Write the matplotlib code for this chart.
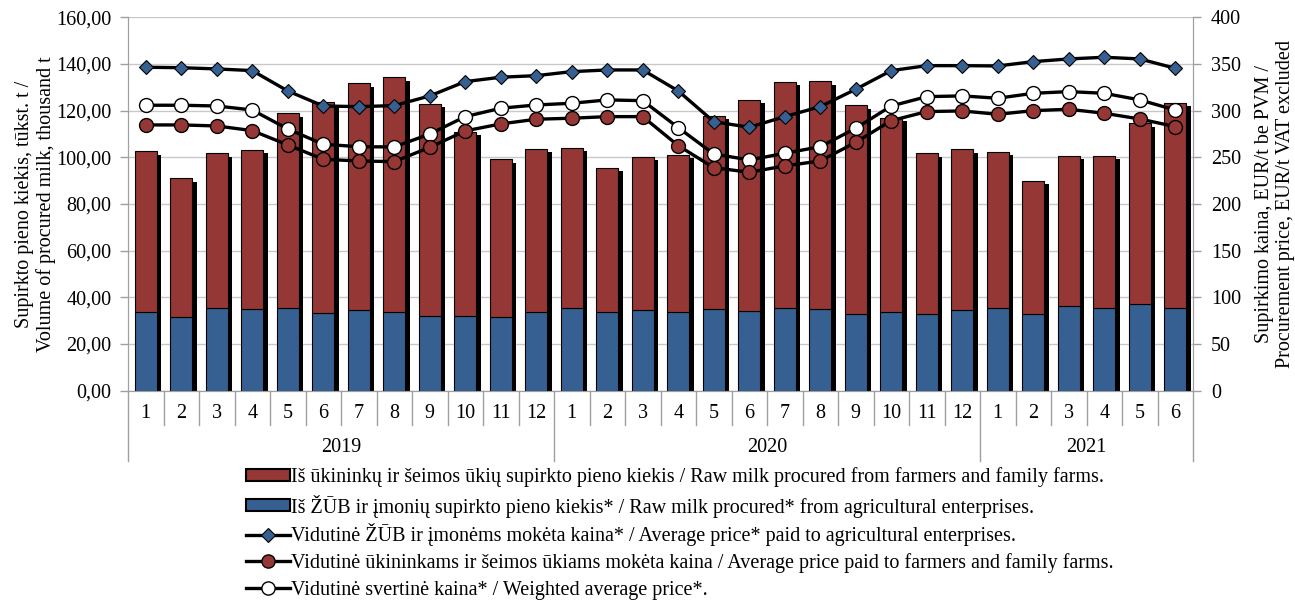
import matplotlib
matplotlib.use("Agg")
import matplotlib.pyplot as plt
import matplotlib.transforms as mtransforms
from matplotlib.patches import Rectangle
from matplotlib.lines import Line2D
import numpy as np

plt.rcParams['font.family'] = ['Liberation Serif', 'DejaVu Serif']

months = ['1','2','3','4','5','6','7','8','9','10','11','12',
          '1','2','3','4','5','6','7','8','9','10','11','12',
          '1','2','3','4','5','6']
years = ['2019', '2020', '2021']
year_counts = [12, 12, 6]

# total procured (thousand t) and part from agricultural enterprises
total_milk = [102.7, 91.0, 101.7, 103.3, 118.9, 123.9, 131.7, 134.3, 122.9, 111.0, 99.2, 103.7,
              104.2, 95.6, 100.3, 101.0, 117.9, 124.6, 132.4, 132.7, 122.3, 117.0, 101.7, 103.5,
              102.4, 90.0, 100.6, 100.6, 114.6, 123.3]
enterprise_milk = [33.9, 31.7, 35.4, 34.9, 35.4, 33.4, 34.6, 33.9, 32.0, 32.0, 31.5, 33.7,
                   35.3, 33.7, 34.6, 33.7, 35.1, 34.2, 35.6, 35.0, 32.9, 33.6, 32.9, 34.6,
                   35.6, 32.7, 36.4, 35.3, 37.0, 35.6]
farmer_milk = [round(t - e, 1) for t, e in zip(total_milk, enterprise_milk)]

price_enterprise = [346.5, 346.0, 344.7, 342.9, 321.1, 305.0, 304.3, 305.4, 315.8, 331.1, 335.8, 337.5,
                    341.8, 343.6, 343.6, 321.1, 288.2, 282.2, 293.6, 304.3, 322.9, 342.9, 348.2, 348.2,
                    347.9, 352.5, 355.4, 357.2, 355.4, 345.4]
price_farmers = [284.7, 284.7, 283.6, 278.6, 263.3, 247.9, 246.1, 245.4, 260.7, 278.3, 285.8, 290.8,
                 291.9, 293.6, 293.6, 262.5, 238.9, 234.0, 240.8, 246.1, 266.1, 289.3, 299.0, 299.7,
                 296.1, 300.0, 301.5, 297.2, 291.1, 282.9]
price_weighted = [305.8, 305.8, 305.0, 300.7, 280.4, 264.0, 261.4, 261.1, 275.0, 293.6, 302.6, 306.1,
                  307.9, 311.5, 310.7, 281.8, 253.6, 247.2, 254.3, 261.4, 281.1, 305.0, 315.0, 315.8,
                  313.3, 318.6, 320.4, 318.6, 311.5, 300.7]

labels = [
    'Iš ūkininkų ir šeimos ūkių supirkto pieno kiekis / Raw milk procured from farmers and family farms.',
    'Iš ŽŪB ir įmonių supirkto pieno kiekis* / Raw milk procured* from agricultural enterprises.',
    'Vidutinė ŽŪB ir įmonėms mokėta kaina* / Average price* paid to agricultural enterprises.',
    'Vidutinė ūkininkams ir šeimos ūkiams mokėta kaina / Average price paid to farmers and family farms.',
    'Vidutinė svertinė kaina* / Weighted average price*.',
]

RED = '#953735'
BLUE = '#376092'
GRID = '#c8c8c8'
AX = '#a0a0a0'
FS = 14.5

fig = plt.figure(figsize=(12.95, 6.0), dpi=100)
ax = fig.add_axes([128/1295, 1 - 390.7/600, (1193-128)/1295, (390.7-17.3)/600])
x = np.arange(len(months))
w = 0.62

# shadow
shadow_tr = ax.transData + mtransforms.ScaledTranslation(4.5/100, -3.5/100, fig.dpi_scale_trans)
ax.bar(x, total_milk, w, color='black', transform=shadow_tr, zorder=2)
ax.bar(x, enterprise_milk, w, color=BLUE, edgecolor='black', linewidth=0.8, zorder=3)
ax.bar(x, farmer_milk, w, bottom=enterprise_milk, color=RED, edgecolor='black', linewidth=0.8, zorder=3)

ax.set_xlim(-0.5, len(months) - 0.5)
ax.set_ylim(0, 160)
ax.set_yticks(np.arange(0, 161, 20))
ax.set_yticklabels([f'{v:.2f}'.replace('.', ',') for v in np.arange(0, 161, 20)], fontsize=FS)
ax.yaxis.grid(True, color=GRID, linewidth=1.0, zorder=0)
ax.set_axisbelow(True)
ax.set_xticks([])
ax.spines['top'].set_visible(False)
for s in ['left', 'right', 'bottom']:
    ax.spines[s].set_color(AX)
ax.tick_params(axis='y', color=AX, length=6, width=1, pad=6)
ax.set_ylabel('Supirkto pieno kiekis, tūkst. t /\nVolume of procured milk, thousand t',
              fontsize=FS, linespacing=1.12, labelpad=0)

ax2 = ax.twinx()
ax2.set_ylim(0, 400)
ax2.set_yticks(np.arange(0, 401, 50))
ax2.set_yticklabels([str(v) for v in range(0, 401, 50)], fontsize=FS)
ax2.spines['top'].set_visible(False)
for s in ['left', 'right', 'bottom']:
    ax2.spines[s].set_color(AX)
ax2.tick_params(axis='y', color=AX, length=6, width=1, pad=7)
ax2.set_ylabel('Supirkimo kaina, EUR/t be PVM /\nProcurement price, EUR/t VAT excluded',
               fontsize=FS, linespacing=1.12, labelpad=10)

lw = 2.4
ax2.plot(x, price_enterprise, color='black', lw=lw, marker='D', ms=7.5, mfc=BLUE, mec='black', mew=0.8, zorder=5)
ax2.plot(x, price_weighted, color='black', lw=lw, marker='o', ms=10, mfc='white', mec='black', mew=1.0, zorder=5)
ax2.plot(x, price_farmers, color='black', lw=lw, marker='o', ms=10, mfc=RED, mec='black', mew=1.0, zorder=5)

# category axis
btr = mtransforms.blended_transform_factory(ax.transData, ax.transAxes)
ah = 390.7 - 17.3
month_bottom = -(425 - 390.7) / ah
year_bottom = -(461 - 390.7) / ah
month_y = -(413 - 390.7) / ah
year_y = -(448 - 390.7) / ah
boundaries = [0]
for c in year_counts:
    boundaries.append(boundaries[-1] + c)
for i in range(len(months) + 1):
    xb = i - 0.5
    yb = year_bottom if i in boundaries else month_bottom
    ax.plot([xb, xb], [0, yb], color=AX, lw=1.0, transform=btr, clip_on=False)
for i, m in enumerate(months):
    ax.text(i, month_y, m, transform=btr, ha='center', va='center', fontsize=FS)
for j, yname in enumerate(years):
    c = (boundaries[j] + boundaries[j + 1] - 1) / 2
    ax.text(c, year_y, yname, transform=btr, ha='center', va='center', fontsize=FS)

handles = [
    Rectangle((0, 0), 1, 1, facecolor=RED, edgecolor='black', linewidth=1.5),
    Rectangle((0, 0), 1, 1, facecolor=BLUE, edgecolor='black', linewidth=1.5),
    Line2D([], [], color='black', lw=lw, marker='D', ms=7.5, mfc=BLUE, mec='black', mew=0.8),
    Line2D([], [], color='black', lw=lw, marker='o', ms=9.5, mfc=RED, mec='black', mew=1.0),
    Line2D([], [], color='black', lw=lw, marker='o', ms=9.5, mfc='white', mec='black', mew=1.0),
]
row_y = [477, 506, 535, 563, 590]
for h, lab, yy in zip(handles, labels, row_y):
    fig.legend([h], [lab], loc='center left', bbox_to_anchor=(246/1295, 1 - yy/600),
               frameon=False, fontsize=FS, handlelength=2.2, handleheight=0.55,
               handletextpad=0.05, borderpad=0, borderaxespad=0)

fig.savefig('out.png', dpi=100)
